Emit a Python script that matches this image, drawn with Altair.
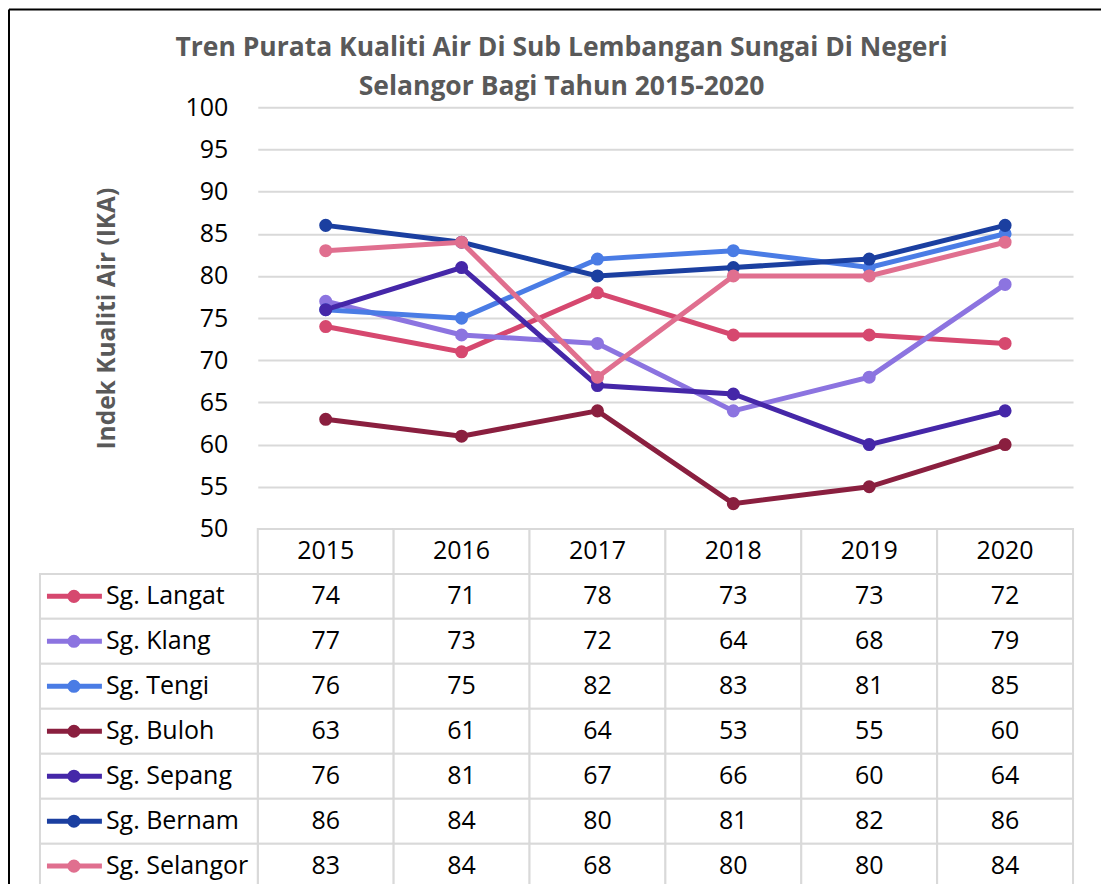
import altair as alt
import pandas as pd

years = ["2015", "2016", "2017", "2018", "2019", "2020"]
series = ["Sg. Langat", "Sg. Klang", "Sg. Tengi", "Sg. Buloh", "Sg. Sepang", "Sg. Bernam", "Sg. Selangor"]
colors = ["#D6486F", "#8C74E0", "#4A7CE5", "#8A1F3F", "#4527A8", "#1B3FA0", "#E06F8F"]

langat = [74, 71, 78, 73, 73, 72]
klang = [77, 73, 72, 64, 68, 79]
tengi = [76, 75, 82, 83, 81, 85]
buloh = [63, 61, 64, 53, 55, 60]
sepang = [76, 81, 67, 66, 60, 64]
bernam = [86, 84, 80, 81, 82, 86]
selangor = [83, 84, 68, 80, 80, 84]
values = [langat, klang, tengi, buloh, sepang, bernam, selangor]

y_ticks = [50, 55, 60, 65, 70, 75, 80, 85, 90, 95, 100]
title_line1 = "Tren Purata Kualiti Air Di Sub Lembangan Sungai Di Negeri"
title_line2 = "Selangor Bagi Tahun 2015-2020"
y_title = "Indek Kualiti Air (IKA)"

FONT = "Open Sans"
GRID = "#d9d9d9"
GREY = "#595959"

PLOT_H = 422      # height of the line panel
ROW_H = 45        # height of a table row
N_ROWS = len(series) + 1
TOTAL_H = PLOT_H + ROW_H * N_ROWS

rows = []
for s, vals in zip(series, values):
    for yr, v in zip(years, vals):
        rows.append({"series": s, "row": s, "year": yr, "ika": v})
df = pd.DataFrame(rows)

one = pd.DataFrame({"k": [0]})

# ---------- line panel ----------
x_line = alt.X("year:O", scale=alt.Scale(type="point", domain=years, padding=0.5), axis=None)
y_line = alt.Y(
    "ika:Q",
    scale=alt.Scale(domain=[50, 100], range=[PLOT_H, 0], nice=False, zero=False),
    axis=alt.Axis(
        values=y_ticks, grid=True, gridColor=GRID, gridWidth=2, domain=False, ticks=False,
        tickSize=0, labelPadding=30, labelFontSize=25, labelFont=FONT, labelColor="black",
        title=y_title, titleFont=FONT, titleFontSize=24.5, titleFontWeight="bold",
        titleColor=GREY, titleX=-150, titleY=PLOT_H / 2, titleAngle=-90, titleBaseline="middle",
    ),
)

layers = []
for s, c in zip(series, colors):
    layers.append(
        alt.Chart(df[df.series == s]).mark_line(
            color=c, strokeWidth=5,
            point=alt.OverlayMarkDef(color=c, size=170, filled=True, opacity=1),
        ).encode(x=x_line, y=y_line)
    )

t1 = alt.Chart(pd.DataFrame({"t": [title_line1]})).mark_text(
    font=FONT, fontSize=26.5, fontWeight="bold", color=GREY, align="center", baseline="middle"
).encode(text="t:N", x=alt.value(304), y=alt.value(-59))
t2 = alt.Chart(pd.DataFrame({"t": [title_line2]})).mark_text(
    font=FONT, fontSize=26.5, fontWeight="bold", color=GREY, align="center", baseline="middle"
).encode(text="t:N", x=alt.value(304), y=alt.value(-20))

lines = alt.layer(*layers, t1, t2)

# ---------- data table ----------
row_domain = [""] + series
tx = alt.X("year:N", scale=alt.Scale(type="band", domain=years, paddingInner=0, paddingOuter=0), axis=None)
ty = alt.Y("row:N", scale=alt.Scale(type="band", domain=row_domain, range=[PLOT_H, TOTAL_H],
                                     paddingInner=0, paddingOuter=0), axis=None)

header_df = pd.DataFrame({"year": years, "row": [""] * len(years)})
label_df = pd.DataFrame({"row": series, "color": colors})
cells_df = pd.concat([header_df, df[["year", "row"]]], ignore_index=True)

cells = alt.Chart(cells_df).mark_rect(fill="white", stroke=GRID, strokeWidth=2).encode(x=tx, y=ty)
label_cells = alt.Chart(label_df).mark_rect(fill="white", stroke=GRID, strokeWidth=2).encode(
    x=alt.value(-218), x2=alt.value(0), y=ty)
header_text = alt.Chart(header_df).mark_text(
    font=FONT, fontSize=25, color="black", baseline="middle").encode(x=tx, y=ty, text="year:N")
value_text = alt.Chart(df).mark_text(
    font=FONT, fontSize=25, color="black", baseline="middle").encode(x=tx, y=ty, text="ika:Q")
sym_line = alt.Chart(label_df).mark_rule(strokeWidth=5).encode(
    x=alt.value(-211), x2=alt.value(-156), y=ty, color=alt.Color("color:N", scale=None))
sym_pt = alt.Chart(label_df).mark_circle(size=170, opacity=1).encode(
    x=alt.value(-184), y=ty, color=alt.Color("color:N", scale=None))
label_text = alt.Chart(label_df).mark_text(
    font=FONT, fontSize=25, color="black", align="left", baseline="middle").encode(
    x=alt.value(-152), y=ty, text="row:N")

top_border = alt.Chart(one).mark_rule(color="black", strokeWidth=2).encode(
    x=alt.value(-249), x2=alt.value(844), y=alt.value(-98))
left_border = alt.Chart(one).mark_rule(color="black", strokeWidth=2).encode(
    x=alt.value(-249), y=alt.value(-98), y2=alt.value(TOTAL_H))

table = alt.layer(cells, label_cells, header_text, value_text, sym_line, sym_pt, label_text,
                  top_border, left_border)

chart = alt.layer(lines, table).resolve_scale(x="independent", y="independent").properties(
    width=816, height=TOTAL_H, padding=0, background="white"
).configure(font=FONT).configure_view(stroke="transparent", strokeWidth=0)

chart.save("out.html", embed_options={"renderer": "svg", "actions": False})
